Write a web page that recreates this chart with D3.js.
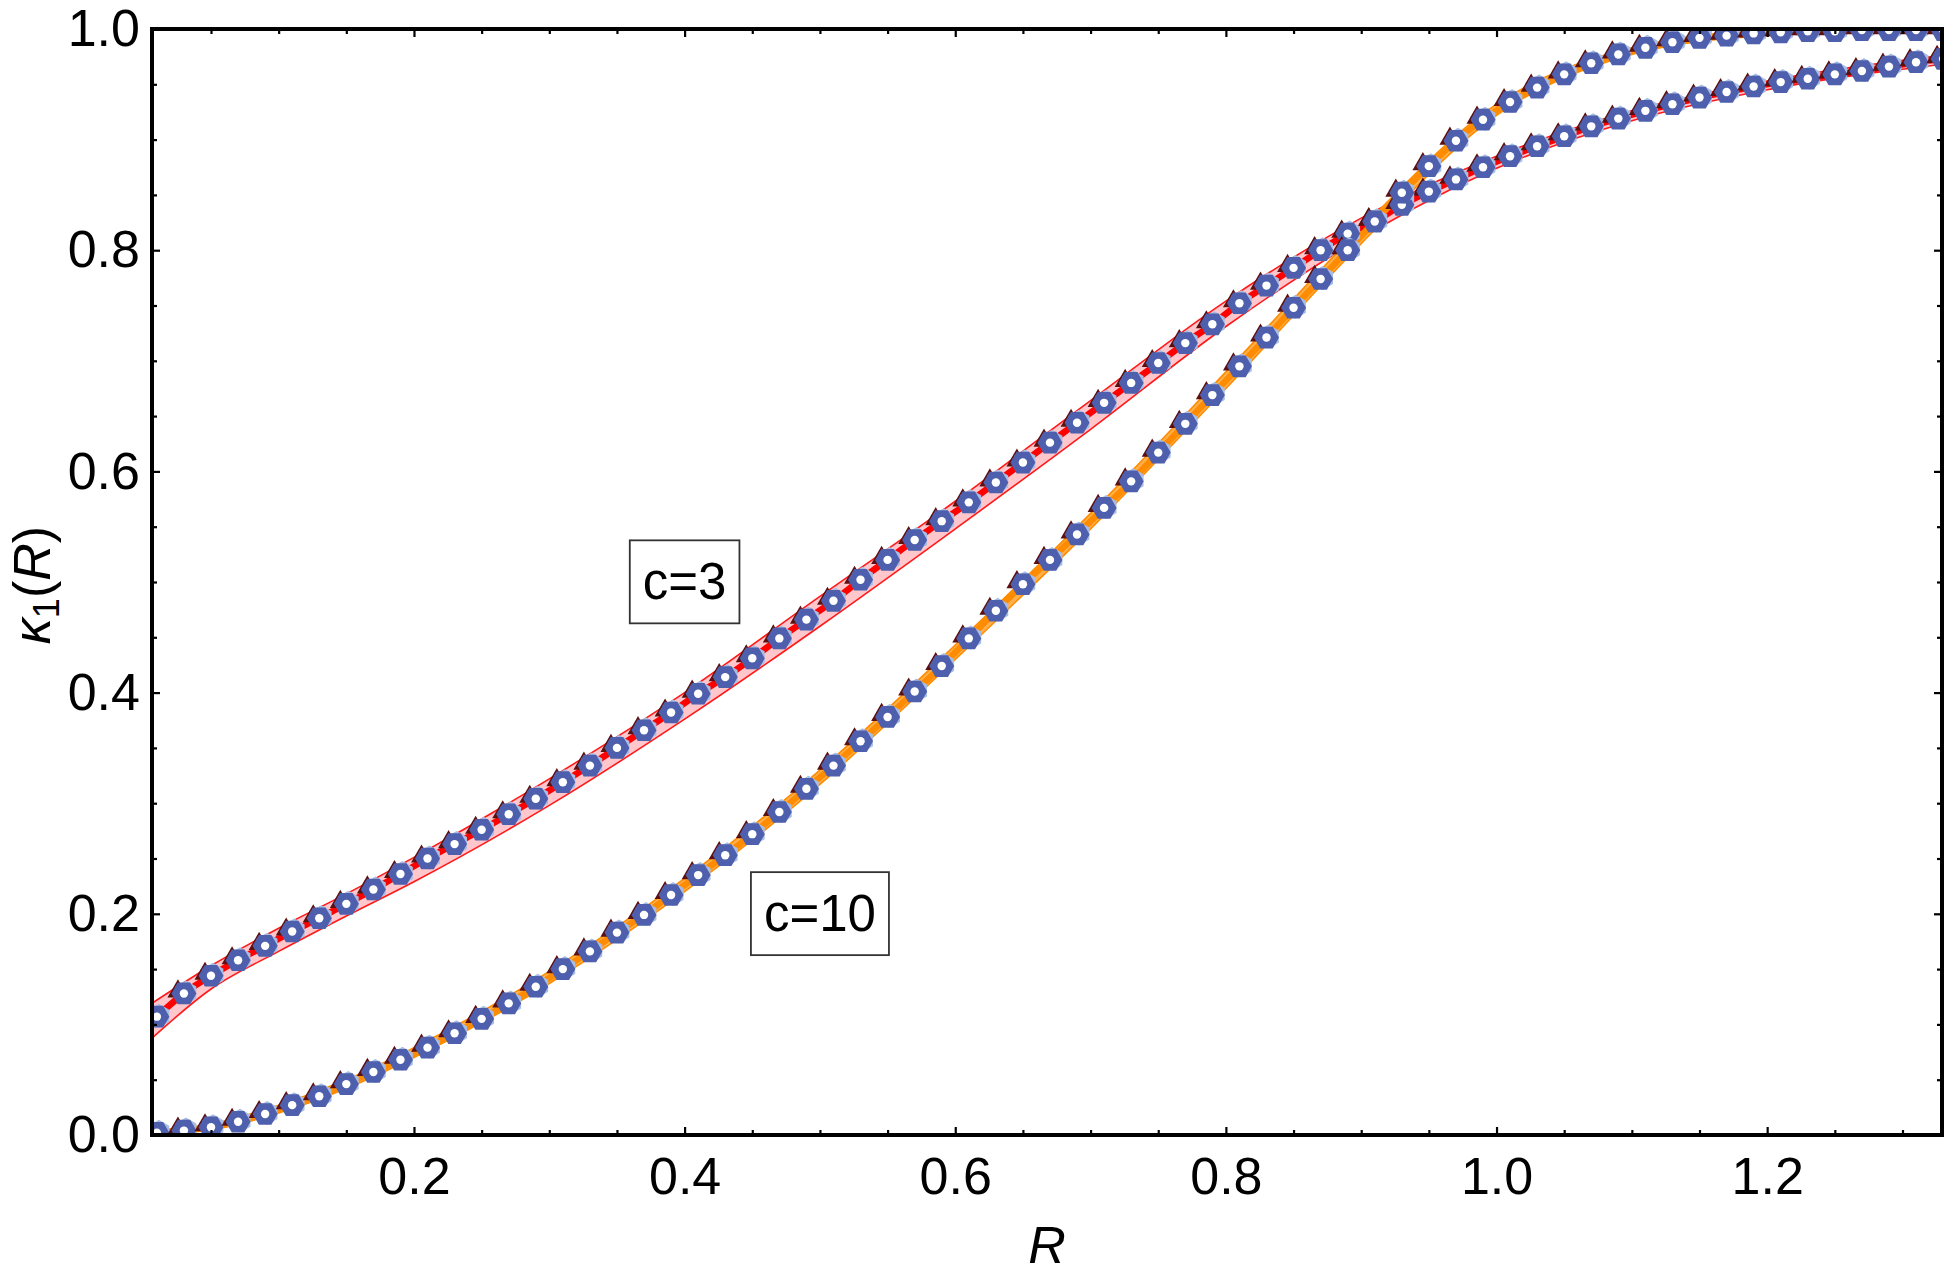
<!DOCTYPE html>
<html>
<head>
<meta charset="utf-8">
<script src="https://cdn.jsdelivr.net/npm/d3@7"></script>
<style>
  body { margin: 0; background: #fff; }
  text { font-family: "Liberation Sans", Arial, sans-serif; fill: #000; }
</style>
</head>
<body>
<div id="chart-container"></div>
<script>
// values
const rValues = [0.01, 0.03, 0.05, 0.07, 0.09, 0.11, 0.13, 0.15, 0.17, 0.19,
  0.21, 0.23, 0.25, 0.27, 0.29, 0.31, 0.33, 0.35, 0.37, 0.39,
  0.41, 0.43, 0.45, 0.47, 0.49, 0.51, 0.53, 0.55, 0.57, 0.59,
  0.61, 0.63, 0.65, 0.67, 0.69, 0.71, 0.73, 0.75, 0.77, 0.79,
  0.81, 0.83, 0.85, 0.87, 0.89, 0.91, 0.93, 0.95, 0.97, 0.99,
  1.01, 1.03, 1.05, 1.07, 1.09, 1.11, 1.13, 1.15, 1.17, 1.19,
  1.21, 1.23, 1.25, 1.27, 1.29, 1.31, 1.33]

const kappaC3 = [0.107, 0.128, 0.144, 0.158, 0.171, 0.184, 0.196, 0.209, 0.222, 0.236,
  0.250, 0.263, 0.276, 0.290, 0.304, 0.319, 0.334, 0.350, 0.366, 0.382,
  0.399, 0.414, 0.431, 0.449, 0.466, 0.483, 0.502, 0.520, 0.538, 0.555,
  0.572, 0.590, 0.608, 0.626, 0.644, 0.662, 0.680, 0.698, 0.716, 0.733,
  0.752, 0.768, 0.784, 0.800, 0.815, 0.826, 0.841, 0.853, 0.864, 0.875,
  0.885, 0.894, 0.903, 0.912, 0.919, 0.926, 0.932, 0.938, 0.943, 0.948,
  0.952, 0.955, 0.959, 0.962, 0.966, 0.970, 0.973]

const kappaC10 = [0.002, 0.004, 0.007, 0.012, 0.019, 0.027, 0.035, 0.046, 0.057, 0.068,
  0.079, 0.092, 0.105, 0.119, 0.134, 0.150, 0.166, 0.183, 0.199, 0.217,
  0.235, 0.253, 0.272, 0.292, 0.313, 0.334, 0.356, 0.378, 0.401, 0.424,
  0.449, 0.474, 0.498, 0.520, 0.543, 0.567, 0.591, 0.617, 0.643, 0.669,
  0.695, 0.721, 0.748, 0.774, 0.800, 0.826, 0.852, 0.876, 0.899, 0.918,
  0.934, 0.947, 0.959, 0.969, 0.977, 0.983, 0.988, 0.992, 0.994, 0.996,
  0.997, 0.998, 0.998, 0.999, 0.999, 0.999, 0.999]

// shaded bands around each curve
const bandR = [0.005, 0.05, 0.1, 0.15, 0.2, 0.3, 0.4, 0.5, 0.6, 0.7, 0.8, 0.9, 1.0, 1.1, 1.2, 1.335]
const c3Lower = [0.086, 0.132, 0.166, 0.198, 0.229, 0.298, 0.376, 0.460, 0.548, 0.638, 0.731, 0.811, 0.874, 0.917, 0.945, 0.969]
const c3Upper = [0.118, 0.153, 0.187, 0.218, 0.251, 0.322, 0.400, 0.487, 0.573, 0.664, 0.754, 0.829, 0.885, 0.926, 0.953, 0.977]
const c10Lower = [0.000, 0.005, 0.020, 0.042, 0.070, 0.137, 0.220, 0.317, 0.430, 0.548, 0.675, 0.806, 0.922, 0.977, 0.994, 0.998]
const c10Upper = [0.004, 0.010, 0.027, 0.050, 0.079, 0.148, 0.232, 0.330, 0.443, 0.562, 0.690, 0.820, 0.932, 0.983, 0.998, 1.000]

const xTickValues = [0.2, 0.4, 0.6, 0.8, 1.0, 1.2]
const yTickValues = [0, 0.2, 0.4, 0.6, 0.8, 1.0]
const curveLabels = [
  { text: "c=3", r: 0.4, k: 0.5 },
  { text: "c=10", r: 0.5, k: 0.2 }
]

/** CONSTANTS */
const width = 1944
const height = 1275
const margins = { top: 29, bottom: 140, left: 152, right: 2 }

const series = [
  { name: "c3", values: kappaC3, lower: c3Lower, upper: c3Upper,
    line: "#ff0000", band: "#ffc6cc", edge: "#ff1a1a" },
  { name: "c10", values: kappaC10, lower: c10Lower, upper: c10Upper,
    line: "#ff8c00", band: "#ffb04d", edge: "#ff8c00" }
]

/** SCALES */
const xScale = d3.scaleLinear()
  .domain([0.0064, 1.3292])
  .range([margins.left, width - margins.right])

const yScale = d3.scaleLinear()
  .domain([0, 1])
  .range([height - margins.bottom, margins.top])

/** DRAWING ELEMENTS */
const svg = d3.select("#chart-container")
  .append("svg")
  .attr("width", width)
  .attr("height", height)

svg.append("clipPath")
  .attr("id", "plot-clip")
  .append("rect")
  .attr("x", margins.left)
  .attr("y", margins.top)
  .attr("width", width - margins.left - margins.right)
  .attr("height", height - margins.top - margins.bottom)

const plot = svg.append("g").attr("clip-path", "url(#plot-clip)")

// bands
const area = d3.area()
  .x((d, i) => xScale(bandR[i]))
  .y0(d => yScale(d[0]))
  .y1(d => yScale(d[1]))
  .curve(d3.curveMonotoneX)

const edgeLine = d3.line()
  .x((d, i) => xScale(bandR[i]))
  .y(d => yScale(d))
  .curve(d3.curveMonotoneX)

series.forEach(s => {
  const pairs = s.lower.map((lo, i) => [lo, s.upper[i]])
  plot.append("path")
    .attr("d", area(pairs))
    .attr("fill", s.band)
  plot.append("path")
    .attr("d", edgeLine(s.lower))
    .attr("fill", "none")
    .attr("stroke", s.edge)
    .attr("stroke-width", 1.6)
  plot.append("path")
    .attr("d", edgeLine(s.upper))
    .attr("fill", "none")
    .attr("stroke", s.edge)
    .attr("stroke-width", 1.6)
})

// mean curves
const meanLine = d3.line()
  .x((d, i) => xScale(rValues[i]))
  .y(d => yScale(d))
  .curve(d3.curveMonotoneX)

series.forEach(s => {
  plot.append("path")
    .attr("d", meanLine(s.values))
    .attr("fill", "none")
    .attr("stroke", s.line)
    .attr("stroke-width", 6.5)
})

// markers: dark triangle, pale hexagon, blue hexagon with white hole
const hexagon = (r, rot) => "M" + d3.range(6)
  .map(i => [r * Math.cos(rot + i * Math.PI / 3), r * Math.sin(rot + i * Math.PI / 3)])
  .join("L") + "Z"

series.forEach(s => {
  const marks = plot.selectAll("g.mark-" + s.name)
    .data(s.values)
    .join("g")
    .attr("class", "mark-" + s.name)
    .attr("transform", (d, i) => `translate(${xScale(rValues[i])},${yScale(d)})`)

  marks.append("path")
    .attr("d", d3.symbol(d3.symbolTriangle).size(190))
    .attr("transform", "translate(-6,-2)")
    .attr("fill", "#5c0f0f")
  marks.append("path")
    .attr("d", hexagon(12, Math.PI / 6))
    .attr("transform", "translate(2,-1)")
    .attr("fill", "#a9bde3")
  marks.append("path")
    .attr("d", hexagon(12.5, 0))
    .attr("fill", "#4e60ad")
  marks.append("circle")
    .attr("r", 4.2)
    .attr("fill", "#fff")
})

// axes: inward ticks on all four sides, labels on bottom and left
const xMinor = d3.range(0.05, 1.33, 0.05).filter(v => !xTickValues.some(t => Math.abs(t - v) < 1e-6))
const yMinor = d3.range(0.05, 1, 0.05).filter(v => !yTickValues.some(t => Math.abs(t - v) < 1e-6))

const bottom = height - margins.bottom
const right = width - margins.right

svg.append("g")
  .attr("transform", `translate(0,${bottom})`)
  .call(d3.axisBottom(xScale).tickValues(xTickValues).tickSizeInner(-8).tickSizeOuter(0)
    .tickPadding(22).tickFormat(d3.format(".1f")))
svg.append("g")
  .attr("transform", `translate(0,${bottom})`)
  .call(d3.axisBottom(xScale).tickValues(xMinor).tickSizeInner(-5).tickSizeOuter(0).tickFormat(""))
svg.append("g")
  .attr("transform", `translate(0,${margins.top})`)
  .call(d3.axisTop(xScale).tickValues(xTickValues).tickSizeInner(-8).tickSizeOuter(0).tickFormat(""))
svg.append("g")
  .attr("transform", `translate(0,${margins.top})`)
  .call(d3.axisTop(xScale).tickValues(xMinor).tickSizeInner(-5).tickSizeOuter(0).tickFormat(""))

svg.append("g")
  .attr("transform", `translate(${margins.left},0)`)
  .call(d3.axisLeft(yScale).tickValues(yTickValues).tickSizeInner(-8).tickSizeOuter(0)
    .tickPadding(12).tickFormat(d3.format(".1f")))
svg.append("g")
  .attr("transform", `translate(${margins.left},0)`)
  .call(d3.axisLeft(yScale).tickValues(yMinor).tickSizeInner(-5).tickSizeOuter(0).tickFormat(""))
svg.append("g")
  .attr("transform", `translate(${right},0)`)
  .call(d3.axisRight(yScale).tickValues(yTickValues).tickSizeInner(-8).tickSizeOuter(0).tickFormat(""))
svg.append("g")
  .attr("transform", `translate(${right},0)`)
  .call(d3.axisRight(yScale).tickValues(yMinor).tickSizeInner(-5).tickSizeOuter(0).tickFormat(""))

svg.selectAll(".domain").remove()
svg.selectAll(".tick line").attr("stroke", "#000").attr("stroke-width", 2.2)
svg.selectAll(".tick text")
  .attr("font-size", 52)
  .attr("font-family", "'Liberation Sans', Arial, sans-serif")

// frame
svg.append("rect")
  .attr("x", margins.left)
  .attr("y", margins.top)
  .attr("width", right - margins.left)
  .attr("height", bottom - margins.top)
  .attr("fill", "none")
  .attr("stroke", "#000")
  .attr("stroke-width", 4)

// axis titles
svg.append("text")
  .attr("x", (margins.left + right) / 2)
  .attr("y", 1263)
  .attr("text-anchor", "middle")
  .attr("font-size", 52)
  .attr("font-style", "italic")
  .text("R")

const yTitle = svg.append("text")
  .attr("transform", `translate(50,${(margins.top + bottom) / 2 + 3}) rotate(-90)`)
  .attr("text-anchor", "middle")
  .attr("font-size", 52)
yTitle.append("tspan").attr("font-style", "italic").text("κ")
yTitle.append("tspan").attr("font-size", 36).attr("dy", 9).text("1")
yTitle.append("tspan").attr("dy", -9).text("(")
yTitle.append("tspan").attr("font-style", "italic").text("R")
yTitle.append("tspan").text(")")

// boxed curve labels
curveLabels.forEach(l => {
  const g = svg.append("g")
  const t = g.append("text")
    .attr("x", xScale(l.r))
    .attr("y", yScale(l.k))
    .attr("dy", "0.34em")
    .attr("text-anchor", "middle")
    .attr("font-size", 51)
    .text(l.text)
  const b = t.node().getBBox()
  g.insert("rect", "text")
    .attr("x", b.x - 13)
    .attr("y", b.y - 13)
    .attr("width", b.width + 26)
    .attr("height", b.height + 26)
    .attr("fill", "#fff")
    .attr("stroke", "#333")
    .attr("stroke-width", 1.8)
})
</script>
</body>
</html>
